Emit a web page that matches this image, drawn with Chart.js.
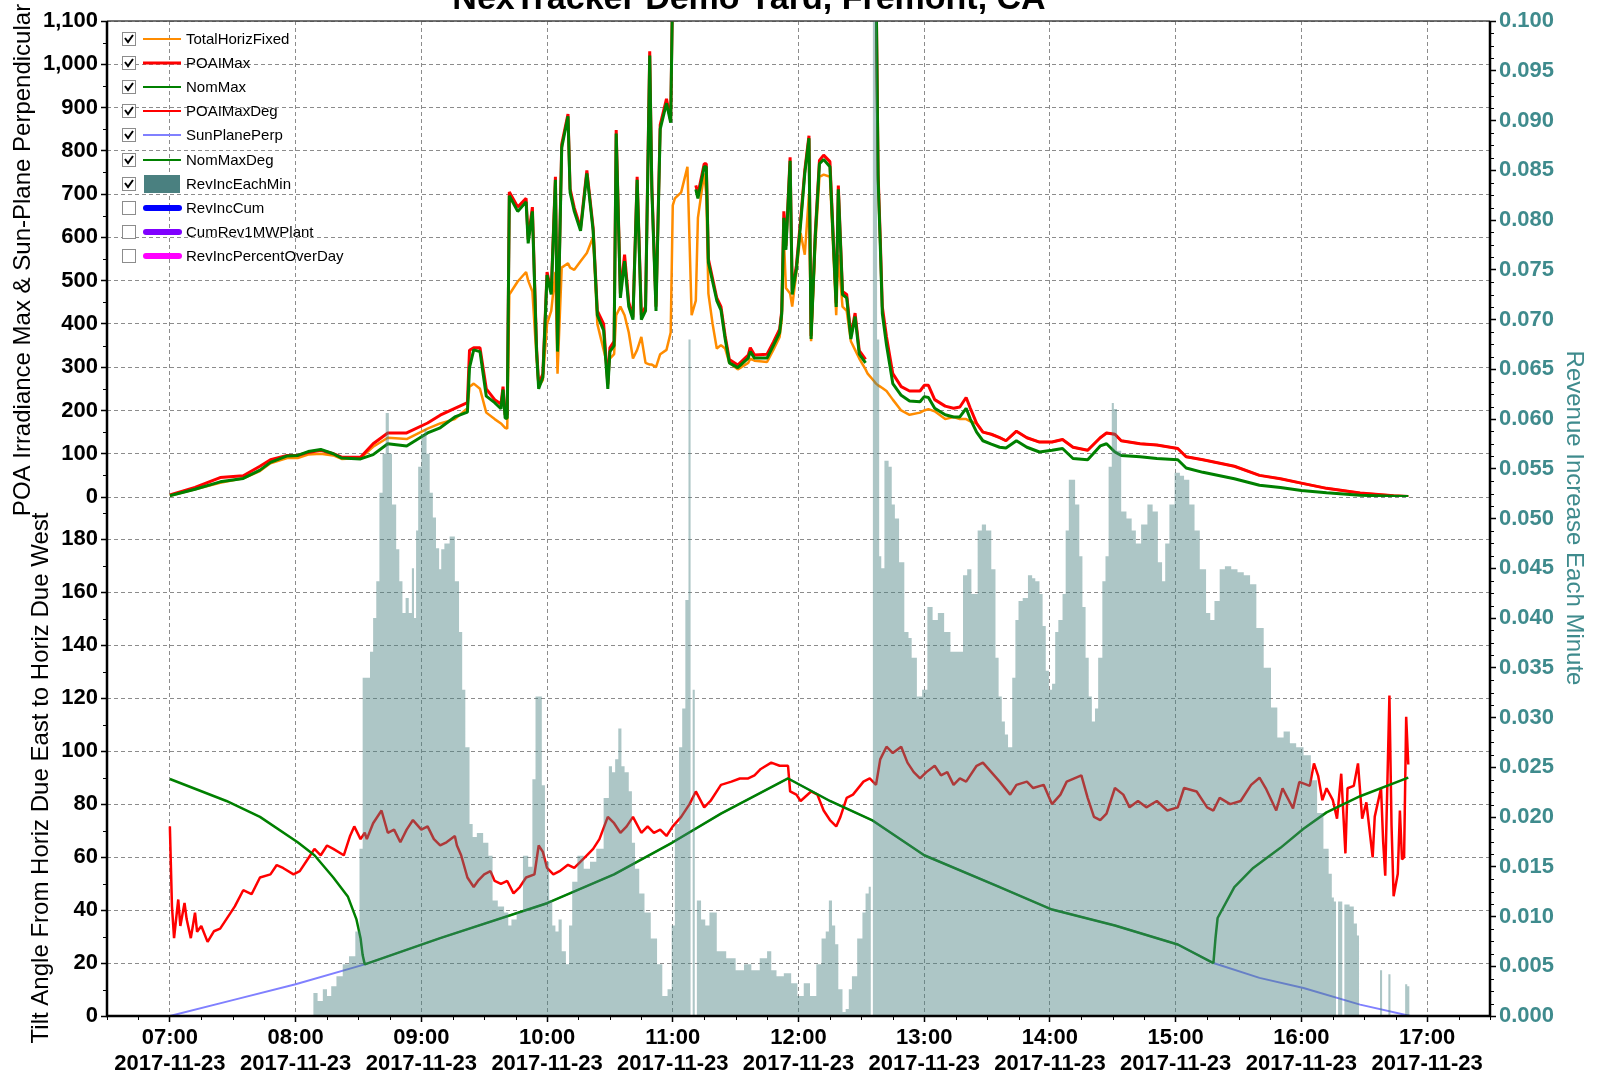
<!DOCTYPE html>
<html>
<head>
<meta charset="utf-8">
<title>NexTracker Demo Yard, Fremont, CA</title>
<script src="https://cdn.jsdelivr.net/npm/chart.js@4/dist/chart.umd.min.js"></script>
<style>
  html, body { margin: 0; padding: 0; background: #fff; }
  canvas { display: block; }
</style>
</head>
<body>
<canvas id="trackerChart" width="1598" height="1078"></canvas>
<script>
const FONT = "'Liberation Sans', Arial, sans-serif";
const GRID = "#8c8c8c";
const TEAL_TEXT = "#3f8b8d";

// x axis: one label per hour, all on the same day
const hourLabels = ["07:00", "08:00", "09:00", "10:00", "11:00", "12:00",
  "13:00", "14:00", "15:00", "16:00", "17:00"];
const dayLabel = "2017-11-23";

const irrTicks = [0, 100, 200, 300, 400, 500, 600, 700, 800, 900, 1000, 1100];
const tiltTicks = [0, 20, 40, 60, 80, 100, 120, 140, 160, 180];
const revTicks = [0, 0.005, 0.01, 0.015, 0.02, 0.025, 0.03, 0.035, 0.04, 0.045, 0.05,
  0.055, 0.06, 0.065, 0.07, 0.075, 0.08, 0.085, 0.09, 0.095, 0.1];

// irradiance panel (W/m2), shared time base
const irrTimes = [
  "07:00", "07:12", "07:24", "07:35", "07:43", "07:48", "07:56", "08:01", "08:06", "08:12",
  "08:18", "08:22", "08:31", "08:37", "08:44", "08:53", "09:03", "09:09", "09:16", "09:22",
  "09:23", "09:25", "09:28", "09:31", "09:35", "09:38", "09:39", "09:40", "09:41", "09:42",
  "09:46", "09:50", "09:51", "09:53", "09:55", "09:56", "09:58", "10:00", "10:02", "10:04",
  "10:05", "10:07", "10:10", "10:11", "10:13", "10:16", "10:19", "10:22", "10:24", "10:27",
  "10:29", "10:30", "10:32", "10:33", "10:35", "10:37", "10:39", "10:41", "10:43", "10:45",
  "10:47", "10:49", "10:50", "10:52", "10:54", "10:57", "10:59", "11:00", "11:01", "11:04",
  "11:07", "11:09", "11:11", "11:12", "11:15", "11:16", "11:17", "11:19", "11:21", "11:23",
  "11:25", "11:27", "11:31", "11:36", "11:37", "11:39", "11:45", "11:48", "11:51", "11:52",
  "11:53", "11:54", "11:56", "11:57", "11:59", "12:01", "12:03", "12:05", "12:06", "12:08",
  "12:10", "12:12", "12:15", "12:18", "12:19", "12:21", "12:23", "12:25", "12:27", "12:29",
  "12:32", "12:33", "12:36", "12:37", "12:38", "12:39", "12:40", "12:42", "12:45", "12:49",
  "12:53", "12:58", "13:00", "13:02", "13:05", "13:10", "13:14", "13:17", "13:20", "13:22",
  "13:25", "13:28", "13:32", "13:36", "13:39", "13:44", "13:49", "13:55", "14:01", "14:06",
  "14:11", "14:18", "14:24", "14:27", "14:31", "14:34", "14:43", "14:51", "15:01", "15:05",
  "15:13", "15:28", "15:40", "15:50", "16:00", "16:12", "16:28", "16:44", "16:51"
];
const totalHorizFixed = [
  3, 18, 33, 43, 60, 78, 90, 90, 98, 100,
  96, 88, 90, 116, 137, 134, 158, 170, 180, 205,
  255, 262, 250, 195, 180, 170, 165, 160, 158, 468,
  498, 520, 500, 475, 320, 255, 270, 400, 430, 520,
  285, 530, 540, 530, 525, 545, 564, 601, 400, 340,
  300, 320, 330, 420, 440, 420, 380, 320, 340, 370,
  310, 306, 306, 300, 330, 340, 380, 674, 690, 704,
  763, 420, 454, 645, 748, 700, 470, 400, 343, 351,
  343, 310, 295, 310, 320, 315, 312, 340, 370, 410,
  600, 483, 470, 440, 520, 610, 560, 700, 360, 580,
  740, 745, 740, 420, 560, 440, 430, 360, 340, 320,
  295, 285, 268, 262, 258, 255, 252, 245, 225, 200,
  190, 195, 200, 203, 198, 180, 185, 180, 180, 175,
  170, 150, 145, 137, 130, 152, 137, 127, 127, 133,
  115, 108, 137, 148, 145, 130, 123, 120, 112, 93,
  86, 71, 50, 42, 32, 20, 9, 3, 1
];
const poaIMax = [
  5, 22, 45, 49, 71, 86, 96, 96, 103, 108,
  100, 92, 92, 123, 148, 148, 171, 189, 205, 218,
  339, 345, 345, 250, 225, 215, 255, 190, 190, 705,
  670, 690, 595, 670, 345, 260, 285, 520, 475, 740,
  345, 815, 885, 712, 668, 622, 755, 622, 430, 400,
  260, 345, 360, 848, 470, 560, 450, 415, 740, 420,
  440, 1030, 720, 440, 860, 920, 870, 1200, null, null,
  null, null, 720, 700, 770, 770, 550, 505, 460, 440,
  372, 318, 305, 328, 345, 328, 330, 358, 388, 430,
  660, 580, 785, 475, 535, 640, 755, 835, 372, 610,
  778, 790, 775, 448, 720, 475, 468, 372, 425, 338,
  318, null, null, 1200, 745, 600, 440, 370, 285, 255,
  245, 245, 258, 258, 225, 210, 205, 208, 230, 205,
  170, 150, 145, 137, 130, 152, 137, 127, 127, 133,
  115, 108, 137, 148, 145, 130, 123, 120, 112, 93,
  86, 71, 50, 42, 32, 20, 9, 3, 1
];
const nomMax = [
  3, 18, 35, 43, 62, 80, 95, 96, 105, 110,
  100, 90, 88, 98, 123, 118, 148, 160, 185, 196,
  299, 340, 336, 233, 218, 204, 248, 182, 182, 696,
  660, 682, 586, 660, 336, 250, 277, 513, 468, 733,
  336, 807, 880, 704, 660, 615, 748, 615, 420, 385,
  250, 336, 350, 840, 460, 545, 440, 410, 733, 410,
  430, 1020, 711, 430, 850, 910, 865, 1200, null, null,
  null, null, 711, 690, 763, 763, 542, 498, 454, 432,
  365, 310, 299, 321, 336, 321, 321, 350, 380, 424,
  645, 571, 777, 468, 527, 630, 748, 829, 365, 601,
  770, 780, 763, 439, 711, 468, 460, 365, 417, 330,
  310, null, null, 1200, 733, 586, 424, 351, 262, 235,
  222, 220, 232, 230, 205, 190, 185, 185, 205, 180,
  150, 130, 122, 115, 113, 130, 115, 104, 108, 112,
  89, 86, 118, 123, 104, 96, 93, 89, 86, 67,
  57, 42, 27, 22, 15, 10, 4, 2, 1
];

// tilt panel (degrees)
const degTimes = [
  "07:00", "07:01", "07:02", "07:04", "07:05", "07:07", "07:08", "07:10", "07:12", "07:13",
  "07:15", "07:18", "07:21", "07:24", "07:27", "07:31", "07:35", "07:39", "07:43", "07:48",
  "07:51", "07:54", "07:59", "08:02", "08:06", "08:09", "08:12", "08:15", "08:18", "08:23",
  "08:26", "08:28", "08:31", "08:33", "08:34", "08:37", "08:41", "08:44", "08:47", "08:50",
  "08:53", "08:56", "09:00", "09:03", "09:06", "09:09", "09:12", "09:16", "09:17", "09:19",
  "09:22", "09:25", "09:27", "09:30", "09:33", "09:35", "09:38", "09:41", "09:44", "09:47",
  "09:50", "09:54", "09:56", "09:58", "10:00", "10:03", "10:06", "10:10", "10:13", "10:16",
  "10:19", "10:22", "10:25", "10:29", "10:32", "10:35", "10:38", "10:41", "10:45", "10:48",
  "10:51", "10:54", "10:57", "11:00", "11:04", "11:08", "11:11", "11:15", "11:18", "11:23",
  "11:28", "11:32", "11:36", "11:39", "11:42", "11:47", "11:51", "11:55", "11:56", "11:59",
  "12:01", "12:06", "12:09", "12:12", "12:15", "12:18", "12:20", "12:23", "12:26", "12:31",
  "12:34", "12:37", "12:39", "12:42", "12:45", "12:49", "12:52", "12:55", "12:58", "13:01",
  "13:05", "13:08", "13:11", "13:14", "13:17", "13:20", "13:25", "13:28", "13:32", "13:36",
  "13:41", "13:44", "13:49", "13:52", "13:57", "14:01", "14:05", "14:08", "14:15", "14:18",
  "14:21", "14:24", "14:27", "14:31", "14:35", "14:38", "14:42", "14:46", "14:51", "14:56",
  "15:01", "15:04", "15:10", "15:15", "15:18", "15:21", "15:26", "15:31", "15:36", "15:40",
  "15:43", "15:48", "15:51", "15:56", "15:59", "16:04", "16:06", "16:08", "16:10", "16:12",
  "16:15", "16:17", "16:19", "16:21", "16:22", "16:25", "16:27", "16:29", "16:31", "16:34",
  "16:35", "16:38", "16:39", "16:40", "16:42", "16:43", "16:44", "16:46", "16:47", "16:48",
  "16:49", "16:50", "16:51"
];
const poaIMaxDeg = [
  71.6, 41.4, 29.4, 44, 34, 42.7, 36.6, 29.4, 39, 31.8,
  34, 28, 32, 33, 36.6, 41.4, 47.5, 46, 52.3, 53.5,
  57, 55.9, 53.5, 54.7, 59.5, 63.1, 60.7, 64.4, 63.1, 60.7,
  68, 71.6, 66.8, 69.2, 66.8, 72.8, 77.6, 69.2, 70.4, 65.6,
  70.4, 74, 70.4, 71.6, 66.8, 64.4, 65.6, 68, 64.4, 60.7,
  52.3, 48.7, 51, 53.5, 54.7, 51, 49.9, 51, 46.3, 48.7,
  52.3, 53.5, 64.4, 62, 55.9, 53.5, 54.7, 57.1, 55.9, 58.3,
  60.7, 63.1, 66.8, 75.2, 72.8, 69.2, 71.6, 75.2, 69.2, 71.6,
  69.2, 70.4, 68, 71.6, 75.2, 80, 84.8, 78.8, 81.2, 87.3,
  88.5, 89.7, 89.7, 90.9, 93.3, 95.7, 94.5, 94.5, 84.8, 83.6,
  81.2, 84.8, 83.6, 77.6, 74, 71.6, 75.2, 82.4, 83.6, 88.5,
  89.7, 87.3, 96.9, 101.7, 99.3, 101.7, 95.7, 92.1, 89.7, 92.1,
  94.5, 90.9, 92.1, 87.3, 89.7, 88.5, 94.5, 95.7, 92.1, 88.5,
  83.6, 87.3, 88.5, 86.1, 87.3, 80, 83.6, 88.5, 90.9, 82.4,
  75.2, 74, 76.4, 86.1, 83.6, 78.8, 81.2, 78.8, 81.2, 77.6,
  78.8, 86.1, 84.8, 78.8, 77.6, 82.4, 80, 81.2, 87.3, 90,
  86, 77.6, 86, 78.4, 88.4, 86.9, 95.4, 90.7, 81.5, 86,
  81.5, 74.5, 91.5, 61.4, 86, 86.9, 95.4, 74.5, 80.7, 59.9,
  75.3, 86, 66, 53, 121, 72.2, 45.2, 53.7, 77.6, 59.1,
  60, 113, 95
];

const nomDegTimes = [
  "07:00", "07:27", "07:43", "08:01", "08:09", "08:18", "08:25", "08:29", "08:31", "08:32",
  "08:33", "09:09", "10:00", "10:32", "11:00", "11:23", "11:55", "12:15", "12:35", "13:00",
  "13:36", "14:01", "14:31", "15:01", "15:18", "15:19", "15:20", "15:28", "15:37", "15:50",
  "16:01", "16:12", "16:28", "16:51"
];
const nomMaxDeg = [
  89.5, 81.2, 75.2, 65.6, 60.7, 52.3, 45, 36.6, 29.4, 23,
  19.5, 29.4, 42.6, 53.5, 65.6, 76.4, 89.7, 81.2, 74, 60.7,
  48.7, 40.2, 34.2, 27, 20, 29.4, 37, 48.7, 55.9, 63.5,
  70.7, 76.9, 83, 90
];

const sunTimes = [
  "07:00", "07:30", "08:00", "08:33", "09:09", "10:00", "10:32", "11:00", "11:23", "11:55",
  "12:15", "12:35", "13:00", "13:36", "14:01", "14:31", "15:01", "15:18", "15:40", "16:01",
  "16:28", "16:52"
];
const sunPlanePerp = [
  0, 6, 12, 19.5, 29.4, 42.6, 53.5, 65.6, 76.4, 89.7,
  81.2, 74, 60.7, 48.7, 40.2, 34.2, 27, 20, 14.4, 10.6,
  4.3, 0
];

// revenue gained each minute (right axis)
const revTimes = [
  "08:08", "08:09", "08:12", "08:14", "08:16", "08:18", "08:21", "08:24", "08:27", "08:30",
  "08:31", "08:33", "08:35", "08:36", "08:38", "08:39", "08:41", "08:42", "08:44", "08:45",
  "08:47", "08:49", "08:50", "08:52", "08:53", "08:55", "08:56", "08:57", "08:58", "08:59",
  "09:01", "09:02", "09:03", "09:05", "09:06", "09:08", "09:09", "09:10", "09:12", "09:15",
  "09:17", "09:19", "09:20", "09:22", "09:24", "09:25", "09:28", "09:31", "09:33", "09:35",
  "09:38", "09:41", "09:42", "09:44", "09:47", "09:50", "09:52", "09:54", "09:55", "09:57",
  "09:58", "10:00", "10:02", "10:03", "10:05", "10:06", "10:08", "10:10", "10:11", "10:13",
  "10:16", "10:19", "10:22", "10:25", "10:29", "10:30", "10:32", "10:33", "10:35", "10:36",
  "10:38", "10:40", "10:41", "10:43", "10:45", "10:48", "10:51", "10:54", "10:56", "10:59",
  "11:00", "11:02", "11:04", "11:05", "11:07", "11:08", "11:09", "11:10", "11:11", "11:12",
  "11:15", "11:16", "11:19", "11:23", "11:28", "11:32", "11:36", "11:39", "11:44", "11:46",
  "11:48", "11:51", "11:55", "11:58", "12:01", "12:04", "12:07", "12:10", "12:12", "12:14",
  "12:15", "12:17", "12:18", "12:20", "12:22", "12:23", "12:25", "12:26", "12:30", "12:31",
  "12:33", "12:34", "12:35", "12:36", "12:37", "12:38", "12:39", "12:40", "12:42", "12:44",
  "12:45", "12:47", "12:49", "12:52", "12:53", "12:55", "12:58", "13:00", "13:03", "13:05",
  "13:08", "13:11", "13:14", "13:17", "13:20", "13:21", "13:24", "13:27", "13:28", "13:31",
  "13:33", "13:35", "13:36", "13:38", "13:39", "13:41", "13:43", "13:44", "13:46", "13:48",
  "13:51", "13:52", "13:54", "13:56", "13:57", "13:59", "14:00", "14:02", "14:03", "14:05",
  "14:07", "14:08", "14:10", "14:11", "14:13", "14:15", "14:16", "14:18", "14:19", "14:21",
  "14:22", "14:24", "14:26", "14:27", "14:29", "14:30", "14:31", "14:33", "14:35", "14:38",
  "14:40", "14:42", "14:45", "14:48", "14:50", "14:53", "14:54", "14:56", "14:58", "15:01",
  "15:03", "15:05", "15:08", "15:10", "15:13", "15:16", "15:17", "15:20", "15:22", "15:25",
  "15:28", "15:31", "15:34", "15:37", "15:40", "15:44", "15:47", "15:50", "15:53", "15:56",
  "15:59", "16:03", "16:06", "16:09", "16:12", "16:14", "16:15", "16:16", "16:17", "16:18",
  "16:19", "16:20", "16:21", "16:22", "16:24", "16:26", "16:27", "16:28", "16:37", "16:38",
  "16:39", "16:41", "16:42", "16:43", "16:49", "16:50", "16:51", "16:52"
];
const revIncEachMin = [
  0, 0.0023, 0.0015, 0.0027, 0.0020, 0.0030, 0.0040, 0.0052, 0.0060, 0.0085,
  0.0168, 0.0340, 0.0340, 0.0366, 0.0400, 0.0437, 0.0526, 0.0565, 0.0606, 0.0565,
  0.0514, 0.0469, 0.0437, 0.0405, 0.0420, 0.0405, 0.0450, 0.0400, 0.0488, 0.0552,
  0.0584, 0.0590, 0.0565, 0.0526, 0.0501, 0.0470, 0.0449, 0.0469, 0.0475, 0.0482,
  0.0437, 0.0386, 0.0328, 0.0270, 0.0193, 0.0180, 0.0184, 0.0174, 0.0161, 0.0116,
  0.0110, 0.0104, 0.0091, 0.0097, 0.0104, 0.0161, 0.0150, 0.0238, 0.0321, 0.0321,
  0.0232, 0.0155, 0.0116, 0.0091, 0.0085, 0.0097, 0.0065, 0.0052, 0.0091, 0.0135,
  0.0161, 0.0148, 0.0155, 0.0168, 0.0219, 0.0251, 0.0245, 0.0258, 0.0289, 0.0251,
  0.0245, 0.0226, 0.0174, 0.0148, 0.0123, 0.0104, 0.0078, 0.0052, 0.0020, 0.0027,
  0.0091, 0.0193, 0.0270, 0.0309, 0.0418, 0.0680, 0, 0.0328, 0, 0.0116,
  0.0097, 0.0091, 0.0104, 0.0065, 0.0058, 0.0046, 0.0052, 0.0046, 0.0058, 0.0065,
  0.0046, 0.0040, 0.0043, 0.0033, 0.0020, 0.0033, 0.0020, 0.0052, 0.0078, 0.0085,
  0.0116, 0.0091, 0.0072, 0.0027, 0.0004, 0.0007, 0.0027, 0.0040, 0.0078, 0.0104,
  0.0123, 0.0130, 0, 0.1, 0.1, 0.0680, 0.0462, 0.0450, 0.0558, 0.0552,
  0.0514, 0.0500, 0.0456, 0.0386, 0.0380, 0.0360, 0.0321, 0.0328, 0.0411, 0.0398,
  0.0405, 0.0386, 0.0366, 0.0366, 0.0443, 0.0449, 0.0424, 0.0488, 0.0494, 0.0488,
  0.0449, 0.0360, 0.0321, 0.0296, 0.0283, 0.0270, 0.0340, 0.0398, 0.0417, 0.0420,
  0.0443, 0.0440, 0.0437, 0.0424, 0.0392, 0.0347, 0.0328, 0.0334, 0.0386, 0.0398,
  0.0424, 0.0488, 0.0539, 0.0539, 0.0514, 0.0462, 0.0411, 0.0360, 0.0321, 0.0296,
  0.0309, 0.0360, 0.0437, 0.0462, 0.0552, 0.0616, 0.0610, 0.0568, 0.0507, 0.0500,
  0.0488, 0.0475, 0.0494, 0.0514, 0.0507, 0.0456, 0.0437, 0.0475, 0.0514, 0.0546,
  0.0543, 0.0539, 0.0514, 0.0488, 0.0449, 0.0405, 0.0398, 0.0417, 0.0449, 0.0452,
  0.0449, 0.0446, 0.0443, 0.0434, 0.0390, 0.0350, 0.0310, 0.0280, 0.0286, 0.0274,
  0.0270, 0.0262, 0.0237, 0.0204, 0.0168, 0.0143, 0.0119, 0.0115, 0, 0.0115,
  0.0115, 0, 0.0112, 0.0112, 0.0110, 0.0093, 0.0081, 0, 0, 0.0046,
  0, 0, 0.0042, 0, 0, 0.0032, 0.0030, 0
];

const legendItems = [
  { label: "TotalHorizFixed", color: "#ff8c00", width: 2, checked: true },
  { label: "POAIMax", color: "#ff0000", width: 3, checked: true },
  { label: "NomMax", color: "#008000", width: 2, checked: true },
  { label: "POAIMaxDeg", color: "#ff0000", width: 2, checked: true },
  { label: "SunPlanePerp", color: "#8080ff", width: 2, checked: true },
  { label: "NomMaxDeg", color: "#008000", width: 2, checked: true },
  { label: "RevIncEachMin", color: "#4a8080", fill: true, checked: true },
  { label: "RevIncCum", color: "#0000ff", width: 6, checked: false },
  { label: "CumRev1MWPlant", color: "#8000ff", width: 6, checked: false },
  { label: "RevIncPercentOverDay", color: "#ff00ff", width: 6, checked: false }
];

function toMinutes(t) {
  const [h, m] = t.split(":").map(Number);
  return h * 60 + m;
}

function series(times, values) {
  return times.map((t, i) => ({ x: toMinutes(t), y: values[i] }));
}

function lineSet(label, times, values, color, width, axis, order) {
  return {
    label: label,
    data: series(times, values),
    yAxisID: axis,
    borderColor: color,
    borderWidth: width,
    borderJoinStyle: "bevel",
    pointRadius: 0,
    fill: false,
    spanGaps: false,
    tension: 0,
    order: order,
  };
}

const tickFont = { family: FONT, size: 22, weight: "bold" };

function yScale(ticks, extra) {
  return Object.assign({
    type: "linear",
    afterBuildTicks: (scale) => {
      scale.ticks = ticks.map((v) => ({ value: v }));
    },
    grid: { color: GRID, lineWidth: 1, tickLength: 6, tickColor: "#000", tickWidth: 1.5 },
    border: { display: false, dash: [4, 3] },
    ticks: { color: "#000", font: tickFont, padding: 3, autoSkip: false },
  }, extra);
}

// frame, minor ticks, titles and the check-box legend
const chartDecor = {
  id: "chartDecor",
  afterDraw(chart) {
    const { ctx, chartArea: a, scales } = chart;
    ctx.save();

    ctx.strokeStyle = "#000";
    ctx.lineWidth = 1;
    ctx.beginPath();
    for (let m = 390; m <= 1050; m += 15) {
      if (m % 60 === 0) continue;
      const x = Math.round(scales.x.getPixelForValue(m)) + 0.5;
      ctx.moveTo(x, a.bottom);
      ctx.lineTo(x, a.bottom + 4);
    }
    for (let v = 50; v < 1100; v += 100) {
      const y = Math.round(scales.yIrr.getPixelForValue(v)) + 0.5;
      ctx.moveTo(a.left - 4, y);
      ctx.lineTo(a.left, y);
    }
    for (let v = 10; v < 196; v += 20) {
      const y = Math.round(scales.yTilt.getPixelForValue(v)) + 0.5;
      ctx.moveTo(a.left - 4, y);
      ctx.lineTo(a.left, y);
    }
    for (let i = 1; i < 80; i++) {
      if (i % 4 === 0) continue;
      const y = Math.round(scales.yRev.getPixelForValue(i * 0.00125)) + 0.5;
      ctx.moveTo(a.right, y);
      ctx.lineTo(a.right + 4, y);
    }
    ctx.stroke();

    ctx.strokeStyle = "#444";
    ctx.lineWidth = 1.5;
    ctx.beginPath();
    ctx.moveTo(a.left, a.top);
    ctx.lineTo(a.right, a.top);
    ctx.stroke();
    ctx.strokeStyle = "#000";
    ctx.lineWidth = 2.5;
    ctx.beginPath();
    ctx.moveTo(a.left, a.top);
    ctx.lineTo(a.left, a.bottom);
    ctx.lineTo(a.right, a.bottom);
    ctx.lineTo(a.right, a.top);
    ctx.stroke();

    // chart title, mostly above the canvas edge
    ctx.fillStyle = "#000";
    ctx.font = "bold 34px " + FONT;
    ctx.textAlign = "center";
    ctx.textBaseline = "alphabetic";
    ctx.fillText("NexTracker Demo Yard, Fremont, CA", 749, 9);

    // axis titles
    ctx.font = "24px " + FONT;
    ctx.textBaseline = "middle";
    ctx.save();
    ctx.translate(23, 260);
    ctx.rotate(-Math.PI / 2);
    ctx.fillText("POA Irradiance Max & Sun-Plane Perpendicular", 0, 0);
    ctx.restore();
    ctx.save();
    ctx.translate(41, 778);
    ctx.rotate(-Math.PI / 2);
    ctx.fillText("Tilt Angle From Horiz Due East to Horiz Due West", 0, 0);
    ctx.restore();
    ctx.save();
    ctx.fillStyle = TEAL_TEXT;
    ctx.translate(1574, 518);
    ctx.rotate(Math.PI / 2);
    ctx.fillText("Revenue Increase Each Minute", 0, 0);
    ctx.restore();

    // legend
    ctx.textAlign = "left";
    legendItems.forEach((item, i) => {
      const cy = Math.round(39 + i * 24.1);
      ctx.fillStyle = "#fff";
      ctx.fillRect(122, cy - 7, 13, 13);
      ctx.strokeStyle = "#8c8c8c";
      ctx.lineWidth = 1;
      ctx.strokeRect(122.5, cy - 6.5, 13, 13);
      if (item.checked) {
        ctx.strokeStyle = "#000";
        ctx.lineWidth = 2;
        ctx.lineCap = "butt";
        ctx.beginPath();
        ctx.moveTo(125, cy - 1);
        ctx.lineTo(128, cy + 3);
        ctx.lineTo(133, cy - 4);
        ctx.stroke();
      }
      if (item.fill) {
        ctx.fillStyle = item.color;
        ctx.fillRect(144, cy - 9, 36, 18);
      } else {
        ctx.strokeStyle = item.color;
        ctx.lineWidth = item.width;
        ctx.lineCap = item.checked ? "butt" : "round";
        ctx.beginPath();
        ctx.moveTo(item.checked ? 143 : 146, cy);
        ctx.lineTo(item.checked ? 181 : 179, cy);
        ctx.stroke();
      }
      ctx.fillStyle = "#000";
      ctx.font = "15px " + FONT;
      ctx.fillText(item.label, 186, cy + 1);
    });

    ctx.restore();
  }
};

const ctx = document.getElementById("trackerChart").getContext("2d");
new Chart(ctx, {
  type: "line",
  data: {
    datasets: [
      {
        label: "RevIncEachMin",
        data: series(revTimes, revIncEachMin),
        yAxisID: "yRev",
        borderWidth: 0,
        borderColor: "rgba(74, 128, 128, 0)",
        backgroundColor: "rgba(74, 128, 128, 0.45)",
        fill: "origin",
        stepped: "middle",
        pointRadius: 0,
        order: 0,
      },
      lineSet("NomMax", irrTimes, nomMax, "#008000", 3, "yIrr", 1),
      lineSet("POAIMax", irrTimes, poaIMax, "#ff0000", 3, "yIrr", 2),
      lineSet("TotalHorizFixed", irrTimes, totalHorizFixed, "#ff8c00", 2.5, "yIrr", 3),
      lineSet("NomMaxDeg", nomDegTimes, nomMaxDeg, "#008000", 2.5, "yTilt", 4),
      lineSet("POAIMaxDeg", degTimes, poaIMaxDeg, "#ff0000", 2.5, "yTilt", 5),
      lineSet("SunPlanePerp", sunTimes, sunPlanePerp, "#8080ff", 2, "yTilt", 6),
    ],
  },
  options: {
    responsive: false,
    animation: false,
    devicePixelRatio: 1,
    layout: { padding: { top: 21, left: 0, right: 0, bottom: 0 } },
    scales: {
      x: {
        type: "linear",
        min: 390,
        max: 1050,
        afterBuildTicks: (scale) => {
          scale.ticks = hourLabels.map((h) => ({ value: toMinutes(h) }));
        },
        afterFit: (scale) => {
          scale.height = 62;
        },
        grid: { color: GRID, lineWidth: 1, tickLength: 6, tickColor: "#000", tickWidth: 1.5 },
        border: { display: false, dash: [4, 3] },
        ticks: {
          autoSkip: false,
          maxRotation: 0,
          padding: 3,
          color: "#000",
          font: { family: FONT, size: 22, weight: "bold", lineHeight: 1.18 },
          callback: (v) => [hourLabels[hourLabels.findIndex((h) => toMinutes(h) === v)], dayLabel],
        },
      },
      yTilt: yScale(tiltTicks, {
        position: "left",
        stack: "left",
        stackWeight: 519,
        min: 0,
        max: 196,
        afterFit: (scale) => {
          scale.width = 107;
        },
      }),
      yIrr: yScale(irrTicks, {
        position: "left",
        stack: "left",
        stackWeight: 476,
        min: 0,
        max: 1100,
        afterFit: (scale) => {
          scale.width = 107;
        },
      }),
      yRev: yScale(revTicks, {
        position: "right",
        min: 0,
        max: 0.1,
        afterFit: (scale) => {
          scale.width = 108;
        },
        grid: { drawOnChartArea: false, tickLength: 6, tickColor: "#000", tickWidth: 1.5 },
        ticks: {
          color: TEAL_TEXT,
          font: tickFont,
          padding: 3,
          autoSkip: false,
          callback: (v) => v.toFixed(3),
        },
      }),
    },
    plugins: {
      legend: { display: false },
      tooltip: { enabled: false },
      title: { display: false },
    },
  },
  plugins: [chartDecor],
});
</script>
</body>
</html>
